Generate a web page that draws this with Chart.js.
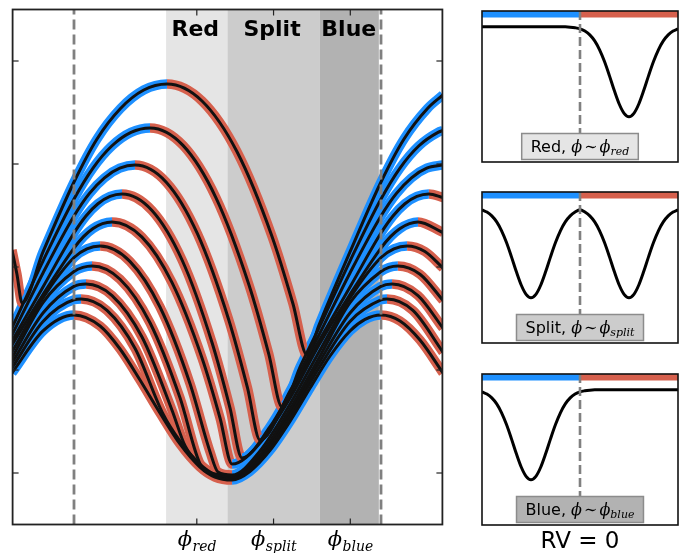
<!DOCTYPE html>
<html><head><meta charset="utf-8">
<script src="https://cdn.jsdelivr.net/npm/chart.js@4.4.1/dist/chart.umd.min.js"></script>
<style>
html,body{margin:0;padding:0;background:#fff;width:686px;height:553px;overflow:hidden;}
canvas{position:absolute;}
</style></head><body>
<canvas id="main" width="460" height="553" style="left:0px;top:0px;width:460px;height:553px"></canvas>
<canvas id="p1" width="204" height="159" style="left:478px;top:7px;width:204px;height:159px"></canvas>
<canvas id="p2" width="204" height="159" style="left:478px;top:188px;width:204px;height:159px"></canvas>
<canvas id="p3" width="204" height="183" style="left:478px;top:370px;width:204px;height:183px"></canvas>
<script>
// ---------------- data ----------------
const X_TICKS = [0.4, 0.65, 0.9];
const X_TICK_LABELS = [['\u03D5','red'], ['\u03D5','split'], ['\u03D5','blue']];
const Y_TICKS = [0, 1, 2, 3, 4];
const REGION_NAMES = ['Red', 'Split', 'Blue'];
const REGION_BOUNDS = [[0.3, 0.5], [0.5, 0.8], [0.8, 0.993]];
const REF_PHASES = [0, 1];

// phase, velocity pairs for each track (top to bottom)
const curve1 = [[-0.202,2.165],[-0.186,1.932],[-0.169,1.650],[-0.101,2.146],[0,2.825],[0.075,3.243],[0.1515,3.539],[0.2272,3.718],[0.303,3.777],[0.417,3.612],[0.531,3.119],[0.645,2.297],[0.713,1.646],[0.759,1.146],[0.798,1.437],[0.899,2.146],[1.0,2.825],[1.075,3.243],[1.1515,3.539],[1.202,3.671]];
const curve2 = [[-0.202,1.408],[-0.101,2.058],[0,2.660],[0.0619,2.961],[0.1238,3.177],[0.1857,3.307],[0.2476,3.350],[0.355,3.181],[0.4625,2.672],[0.570,1.826],[0.6345,1.155],[0.6775,0.641],[0.7362,1.029],[0.798,1.408],[0.899,2.058],[1.0,2.660],[1.0619,2.961],[1.1238,3.177],[1.1857,3.307],[1.202,3.326]];
const curve3 = [[-0.202,1.340],[-0.101,1.942],[0,2.495],[0.0497,2.712],[0.0993,2.866],[0.149,2.959],[0.1987,2.990],[0.3005,2.823],[0.402,2.323],[0.504,1.488],[0.565,0.828],[0.606,0.320],[0.7036,0.796],[0.798,1.340],[0.899,1.942],[1.0,2.495],[1.0497,2.712],[1.0993,2.866],[1.149,2.959],[1.202,2.990]];
const curve4 = [[-0.202,1.282],[-0.101,1.806],[0,2.330],[0.039,2.495],[0.078,2.614],[0.1173,2.685],[0.1564,2.709],[0.254,2.549],[0.352,2.068],[0.4495,1.267],[0.508,0.633],[0.547,0.146],[0.638,0.447],[0.7036,0.777],[0.798,1.282],[0.899,1.806],[1.0,2.330],[1.039,2.495],[1.078,2.614],[1.117,2.685],[1.156,2.709],[1.202,2.674]];
const curve5 = [[-0.202,1.243],[-0.101,1.733],[0,2.184],[0.031,2.295],[0.062,2.374],[0.0928,2.421],[0.1238,2.437],[0.2215,2.290],[0.319,1.850],[0.417,1.116],[0.4756,0.534],[0.515,0.087],[0.606,0.291],[0.704,0.728],[0.798,1.243],[0.899,1.733],[1.0,2.184],[1.031,2.295],[1.062,2.374],[1.0928,2.421],[1.1205,2.437],[1.202,2.335]];
const curve6 = [[-0.202,1.175],[-0.101,1.699],[0,2.092],[0.042,2.176],[0.085,2.204],[0.182,2.055],[0.280,1.612],[0.378,0.867],[0.443,0.207],[0.469,0.010],[0.515,-0.019],[0.606,0.214],[0.704,0.670],[0.798,1.175],[0.899,1.699],[1.0,2.092],[1.042,2.176],[1.085,2.204],[1.143,2.150],[1.202,1.990]];
const curve7 = [[-0.202,1.117],[-0.101,1.655],[0,1.956],[0.029,1.996],[0.0586,2.010],[0.150,1.881],[0.248,1.456],[0.345,0.732],[0.414,0.068],[0.459,-0.010],[0.515,-0.029],[0.606,0.175],[0.704,0.621],[0.798,1.117],[0.899,1.655],[1.0,1.956],[1.026,1.996],[1.055,2.010],[1.127,1.930],[1.202,1.676]];
const curve8 = [[-0.202,1.068],[-0.101,1.553],[0,1.812],[0.039,1.835],[0.124,1.723],[0.2215,1.320],[0.319,0.612],[0.362,0.262],[0.410,0.078],[0.459,-0.019],[0.515,-0.039],[0.606,0.146],[0.704,0.583],[0.798,1.068],[0.899,1.553],[1.0,1.812],[1.036,1.835],[1.1205,1.723],[1.202,1.406]];
const curve9 = [[-0.202,1.019],[-0.101,1.471],[0,1.682],[0.023,1.689],[0.1075,1.578],[0.199,1.208],[0.290,0.573],[0.345,0.311],[0.410,0.087],[0.459,-0.015],[0.515,-0.049],[0.606,0.126],[0.704,0.544],[0.798,1.019],[0.899,1.471],[1.0,1.680],[1.0195,1.689],[1.104,1.578],[1.202,1.172]];
const curve10 = [[-0.202,0.971],[-0.101,1.379],[0,1.534],[0.085,1.427],[0.150,1.204],[0.215,0.903],[0.280,0.583],[0.345,0.282],[0.410,0.058],[0.459,-0.039],[0.515,-0.068],[0.573,0.015],[0.638,0.217],[0.704,0.503],[0.769,0.825],[0.834,1.136],[0.899,1.379],[0.948,1.491],[1.0,1.534],[1.062,1.476],[1.127,1.291],[1.202,0.971]];
const CURVES = [curve1, curve2, curve3, curve4, curve5, curve6, curve7, curve8, curve9, curve10];

// line profiles (velocity, normalized flux)
const PROFILE_V = [-1,-0.95,-0.9,-0.85,-0.8,-0.75,-0.7,-0.65,-0.6,-0.55,-0.5,-0.45,-0.4,-0.35,-0.3,-0.25,-0.2,-0.15,-0.1,-0.05,0,0.05,0.1,0.15,0.2,0.25,0.3,0.35,0.4,0.45,0.5,0.55,0.6,0.65,0.7,0.75,0.8,0.85,0.9,0.95,1];
const profileRed = [0.895,0.895,0.895,0.895,0.895,0.895,0.895,0.895,0.895,0.895,0.895,0.895,0.895,0.895,0.895,0.895,0.895,0.895,0.893,0.889,0.882,0.867,0.842,0.802,0.743,0.665,0.572,0.473,0.384,0.322,0.300,0.322,0.384,0.473,0.572,0.665,0.743,0.802,0.842,0.867,0.882];
const profileSplit = [0.882,0.867,0.842,0.802,0.743,0.665,0.572,0.473,0.384,0.322,0.300,0.322,0.384,0.473,0.572,0.665,0.743,0.802,0.842,0.867,0.882,0.867,0.842,0.802,0.743,0.665,0.572,0.473,0.384,0.322,0.300,0.322,0.384,0.473,0.572,0.665,0.743,0.802,0.842,0.867,0.882];
const profileBlue = [0.882,0.867,0.842,0.802,0.743,0.665,0.572,0.473,0.384,0.322,0.300,0.322,0.384,0.473,0.572,0.665,0.743,0.802,0.842,0.867,0.882,0.889,0.893,0.895,0.895,0.895,0.895,0.895,0.895,0.895,0.895,0.895,0.895,0.895,0.895,0.895,0.895,0.895,0.895,0.895,0.895];
const PANEL_NAMES = ['Red', 'Split', 'Blue'];
const PANEL_SUBS = ['red', 'split', 'blue'];
const BAR_BLUE_V = [-1, 0];
const BAR_RED_V = [0, 1];
const BAR_LEVEL = 0.978;
const DASH_SPAN = [1.0, 0.19];

// ---------------- style ----------------
const BLUE = '#1e90ff', RED = '#d6604d', INK = '#111111', DASH = '#808080';
const REGION_FILLS = ['#e5e5e5', '#cccccc', '#b2b2b2'];
const SERIF = '"DejaVu Serif"', SANS = '"DejaVu Sans"';

const common = {pointRadius: 0, pointHoverRadius: 0, fill: false, clip: 0,
  cubicInterpolationMode: 'monotone', borderCapStyle: 'butt', borderJoinStyle: 'round'};

// first dataset is drawn last (on top): dashes, then all black cores, then all coloured bands
const mainDatasets = [];
REF_PHASES.forEach(p => mainDatasets.push({...common, data: [{x: p, y: -0.5}, {x: p, y: 4.5}],
  borderColor: DASH, borderWidth: 2.8, borderDash: [10, 5], cubicInterpolationMode: 'default'}));
CURVES.forEach(c => {
  mainDatasets.push({...common, data: c.map(([x, y]) => ({x, y})), borderColor: INK, borderWidth: 3});
});
CURVES.forEach(c => {
  mainDatasets.push({...common, data: c.map(([x, y]) => ({x, y})), borderColor: BLUE, borderWidth: 9.5,
    segment: {borderColor: ctx => ctx.p1.parsed.y >= ctx.p0.parsed.y ? BLUE : RED}});
});

function hline(ctx, x0, y0, x1, y1) { ctx.beginPath(); ctx.moveTo(x0, y0); ctx.lineTo(x1, y1); ctx.stroke(); }

const mainDecor = {
  id: 'mainDecor',
  beforeDatasetsDraw(chart) {
    const {ctx, chartArea: a, scales: {x}} = chart;
    ctx.save();
    REGION_BOUNDS.forEach(([l, r], i) => {
      const x0 = x.getPixelForValue(l), x1 = x.getPixelForValue(r);
      ctx.fillStyle = REGION_FILLS[i];
      ctx.fillRect(x0, a.top, x1 - x0, a.bottom - a.top);
    });
    ctx.fillStyle = '#000';
    ctx.font = 'bold 22px ' + SANS;
    ctx.textAlign = 'center';
    ctx.textBaseline = 'alphabetic';
    REGION_NAMES.forEach((t, i) => ctx.fillText(t, x.getPixelForValue(X_TICKS[i]) - 1.5, a.top + 26.5));
    ctx.restore();
  },
  afterDraw(chart) {
    const {ctx, chartArea: a, scales: {x, y}} = chart;
    ctx.save();
    ctx.strokeStyle = '#222'; ctx.lineWidth = 1.2;
    Y_TICKS.forEach(v => { const py = y.getPixelForValue(v); hline(ctx, a.left, py, a.left + 6, py); hline(ctx, a.right, py, a.right - 6, py); });
    X_TICKS.forEach(v => { const px = x.getPixelForValue(v); hline(ctx, px, a.top, px, a.top + 6); hline(ctx, px, a.bottom, px, a.bottom - 6); });
    ctx.lineWidth = 1.8;
    ctx.strokeRect(a.left, a.top, a.right - a.left, a.bottom - a.top);
    ctx.fillStyle = '#000'; ctx.textAlign = 'left'; ctx.textBaseline = 'alphabetic';
    X_TICKS.forEach((v, i) => {
      const [s, sub] = X_TICK_LABELS[i];
      ctx.font = 'italic 21px ' + SERIF; const w1 = ctx.measureText(s).width;
      ctx.font = 'italic 14px ' + SERIF; const w2 = ctx.measureText(sub).width;
      const x0 = x.getPixelForValue(v) - (w1 + w2) / 2;
      ctx.font = 'italic 21px ' + SERIF; ctx.fillText(s, x0, a.bottom + 21.5);
      ctx.font = 'italic 14px ' + SERIF; ctx.fillText(sub, x0 + w1 + 0.5, a.bottom + 26.5);
    });
    ctx.restore();
  }
};

new Chart(document.getElementById('main'), {
  type: 'line',
  data: {datasets: mainDatasets},
  options: {
    responsive: false, animation: false, devicePixelRatio: 1, events: [],
    layout: {padding: {left: 12.6, right: 17.6, top: 9.5, bottom: 28.5}},
    plugins: {legend: {display: false}, tooltip: {enabled: false}},
    scales: {
      x: {type: 'linear', min: -0.2, max: 1.2, display: false},
      y: {type: 'linear', min: -0.5, max: 4.5, display: false}
    }
  },
  plugins: [mainDecor]
});

function panelDecor(idx) {
  return {
    id: 'panelDecor' + idx,
    afterDraw(chart) {
      const {ctx, chartArea: a, scales: {x}} = chart;
      ctx.save();
      ctx.strokeStyle = '#111'; ctx.lineWidth = 1.6;
      ctx.strokeRect(a.left, a.top, a.right - a.left, a.bottom - a.top);
      const t1 = PANEL_NAMES[idx] + ', ';
      const fSans = '16px ' + SANS, fIt = 'italic 16px ' + SERIF, fRel = '16px ' + SERIF, fSub = 'italic 11px ' + SERIF;
      ctx.font = fSans; const w1 = ctx.measureText(t1).width;
      ctx.font = fIt; const wp = ctx.measureText('\u03D5').width;
      ctx.font = fRel; const wr = ctx.measureText('\u223C').width;
      ctx.font = fSub; const ws = ctx.measureText(PANEL_SUBS[idx]).width;
      const gap = 2;
      const total = w1 + wp + gap + wr + gap + wp + ws;
      const cx = x.getPixelForValue(0);
      const bw = total + 18, bh = 26;
      const bx = cx - bw / 2, by = a.bottom - 28.5;
      ctx.fillStyle = REGION_FILLS[idx];
      ctx.fillRect(bx, by, bw, bh);
      ctx.strokeStyle = '#8c8c8c'; ctx.lineWidth = 1.5;
      ctx.strokeRect(bx, by, bw, bh);
      ctx.fillStyle = '#000'; ctx.textAlign = 'left'; ctx.textBaseline = 'alphabetic';
      let tx = cx - total / 2; const base = by + 18;
      ctx.font = fSans; ctx.fillText(t1, tx, base); tx += w1;
      ctx.font = fIt; ctx.fillText('\u03D5', tx, base); tx += wp + gap;
      ctx.font = fRel; ctx.fillText('\u223C', tx, base); tx += wr + gap;
      ctx.font = fIt; ctx.fillText('\u03D5', tx, base); tx += wp;
      ctx.font = fSub; ctx.fillText(PANEL_SUBS[idx], tx, base + 3);
      if (idx === 2) {
        ctx.font = '23px ' + SANS; ctx.textAlign = 'center';
        ctx.fillText('RV = 0', cx, a.bottom + 23);
      }
      ctx.restore();
    }
  };
}

function makePanel(id, idx, profile) {
  const datasets = [
    {...common, data: [{x: 0, y: DASH_SPAN[0]}, {x: 0, y: DASH_SPAN[1]}], borderColor: DASH, borderWidth: 2.6, borderDash: [9, 4], cubicInterpolationMode: 'default'},
    {...common, data: PROFILE_V.map((v, i) => ({x: v, y: profile[i]})), borderColor: '#000', borderWidth: 3},
    {...common, data: BAR_BLUE_V.map(v => ({x: v, y: BAR_LEVEL})), borderColor: BLUE, borderWidth: 6.6},
    {...common, data: BAR_RED_V.map(v => ({x: v, y: BAR_LEVEL})), borderColor: RED, borderWidth: 6.6}
  ];
  new Chart(document.getElementById(id), {
    type: 'line',
    data: {datasets},
    options: {
      responsive: false, animation: false, devicePixelRatio: 1, events: [],
      layout: {padding: {left: 4, right: 4, top: 4, bottom: idx === 2 ? 28 : 4}},
      plugins: {legend: {display: false}, tooltip: {enabled: false}},
      scales: {
        x: {type: 'linear', min: -1, max: 1, display: false},
        y: {type: 'linear', min: 0, max: 1, display: false}
      }
    },
    plugins: [panelDecor(idx)]
  });
}
makePanel('p1', 0, profileRed);
makePanel('p2', 1, profileSplit);
makePanel('p3', 2, profileBlue);
</script></body></html>
